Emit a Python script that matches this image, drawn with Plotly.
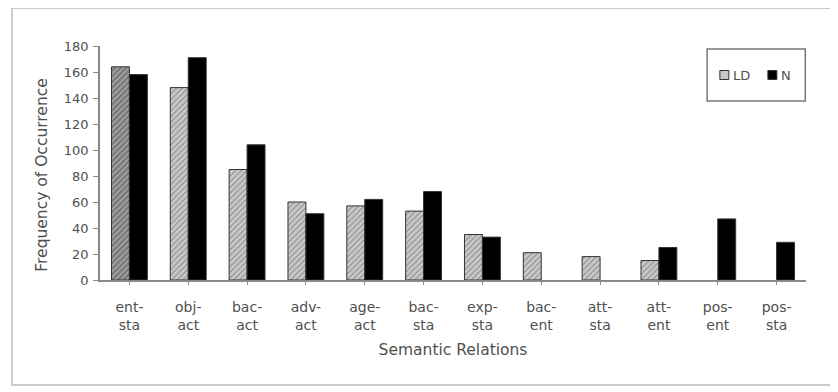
import plotly.graph_objects as go

categories = ["ent-<br>sta", "obj-<br>act", "bac-<br>act", "adv-<br>act", "age-<br>act", "bac-<br>sta",
              "exp-<br>sta", "bac-<br>ent", "att-<br>sta", "att-<br>ent", "pos-<br>ent", "pos-<br>sta"]
ld_values = [164, 148, 85, 60, 57, 53, 35, 21, 18, 15, 0, 0]
n_values = [158, 171, 104, 51, 62, 68, 33, 0, 0, 25, 47, 29]
y_ticks = [0, 20, 40, 60, 80, 100, 120, 140, 160, 180]

x = list(range(len(categories)))
ld_plot = [v if v else None for v in ld_values]
n_plot = [v if v else None for v in n_values]
ld_colors = ["#7a7a7a"] + ["#c9c9c9"] * (len(categories) - 1)
ld_fg = ["#555555"] + ["#9a9a9a"] * (len(categories) - 1)

FONT = "DejaVu Sans, Verdana, sans-serif"
TXT = "#505050"

fig = go.Figure()
fig.add_trace(go.Bar(
    x=x, y=ld_plot, name="LD", showlegend=False,
    marker=dict(color=ld_colors, line=dict(color="#333333", width=1),
                pattern=dict(shape="/", fgcolor=ld_fg, bgcolor=ld_colors, size=4, solidity=0.25)),
))
fig.add_trace(go.Bar(
    x=x, y=n_plot, name="N", showlegend=False,
    marker=dict(color="#000000", line=dict(color="#333333", width=1)),
))

# legend box + entries (paper coordinates)
lx0, lx1, ly0, ly1 = 0.860, 0.999, 0.765, 0.987
ly = 0.876
fig.add_shape(type="rect", xref="paper", yref="paper", x0=lx0, x1=lx1, y0=ly0, y1=ly1,
              line=dict(color="#777777", width=1.5), fillcolor="white")
sw = 9 / 706
sh = 9 / 234
for xs, col, name in [(0.878, "#c9c9c9", "LD"), (0.946, "#000000", "N")]:
    fig.add_shape(type="rect", xref="paper", yref="paper", x0=xs, x1=xs + sw,
                  y0=ly - sh / 2, y1=ly + sh / 2, line=dict(color="#333333", width=1), fillcolor=col)
    fig.add_annotation(text=name, xref="paper", yref="paper", x=xs + sw + 2 / 706, y=ly,
                       xanchor="left", yanchor="middle", showarrow=False,
                       font=dict(family=FONT, size=13, color=TXT))

# y-axis title (slightly below the plot centre, as in the original)
fig.add_annotation(text="Frequency of Occurrence", xref="paper", yref="paper",
                   x=-58 / 706, y=0.45, xanchor="center", yanchor="middle",
                   textangle=-90, showarrow=False,
                   font=dict(family=FONT, size=15.5, color=TXT))

fig.update_layout(
    width=838, height=392,
    margin=dict(l=92, r=40, t=38, b=120),
    paper_bgcolor="white", plot_bgcolor="white",
    barmode="group", bargap=0.39, bargroupgap=0.0,
    font=dict(family=FONT, size=13, color=TXT),
    showlegend=False,
    xaxis=dict(
        tickmode="array", tickvals=x, ticktext=categories,
        range=[-0.5, len(categories) - 0.5],
        showline=True, linecolor="#888888", linewidth=1.5,
        ticks="outside", tickson="boundaries", ticklen=3, tickcolor="#888888",
        ticklabelstandoff=10,
        showgrid=False, zeroline=False,
        title=dict(text="Semantic Relations", standoff=12, font=dict(family=FONT, size=15.5, color=TXT)),
        tickfont=dict(family=FONT, size=14, color=TXT),
    ),
    yaxis=dict(
        range=[0, 180], tickmode="array", tickvals=y_ticks,
        showline=True, linecolor="#888888", linewidth=1.5,
        ticks="outside", ticklen=5, tickcolor="#888888",
        ticklabelstandoff=2,
        showgrid=False, zeroline=False,
        tickfont=dict(family=FONT, size=13, color=TXT),
    ),
)
fig.add_shape(type="rect", xref="paper", yref="paper",
              x0=-88 / 706, x1=1.2, y0=-105 / 234, y1=1 + 38 / 234,
              line=dict(color="#bbbbbb", width=1.5), layer="below")

fig.write_html("out.html")
